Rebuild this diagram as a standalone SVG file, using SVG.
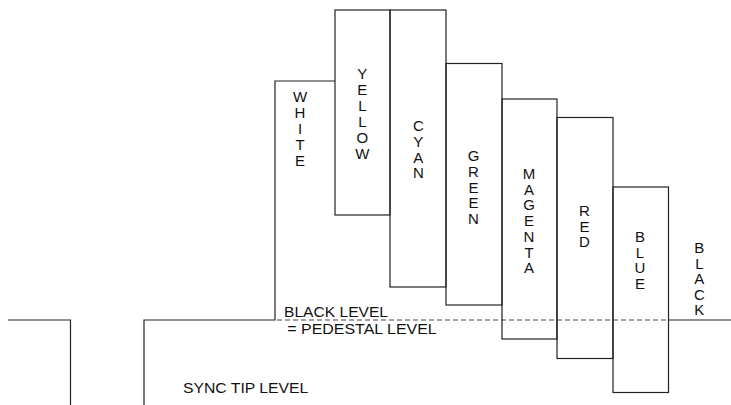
<svg xmlns="http://www.w3.org/2000/svg" width="731" height="405" viewBox="0 0 731 405">
<style>
.ln{fill:none;stroke:#222;stroke-width:1.2}
.bar{fill:none;stroke:#222;stroke-width:1.2}
.dash{fill:none;stroke:#444;stroke-width:1.2;stroke-dasharray:5,3}
text{font-family:"Liberation Sans",Arial,sans-serif;font-size:15px;fill:#111}
.v{text-anchor:middle}
</style>
<rect width="731" height="405" fill="#fff"/>
<g id="connectors">
<polyline class="ln" points="8,320 70.5,320 70.5,405"/>
<polyline class="ln" points="144,405 144,320 275,320 275,81 335,81"/>
<line class="dash" x1="277" y1="320" x2="669" y2="320"/>
<line class="ln" x1="669" y1="320" x2="731" y2="320"/>
</g>
<g id="bar-yellow"><rect class="bar" x="335" y="10" width="55" height="205"/></g>
<g id="bar-cyan"><rect class="bar" x="390" y="10" width="56" height="277"/></g>
<g id="bar-green"><rect class="bar" x="446" y="63.5" width="56" height="241.5"/></g>
<g id="bar-magenta"><rect class="bar" x="502" y="99" width="55" height="240"/></g>
<g id="bar-red"><rect class="bar" x="557" y="117.5" width="56" height="241"/></g>
<g id="bar-blue"><rect class="bar" x="613" y="187" width="55.5" height="205.5"/></g>
<g id="label-white"><text class="v"><tspan x="300" y="102.4">W</tspan><tspan x="300" dy="15.9">H</tspan><tspan x="300" dy="15.9">I</tspan><tspan x="300" dy="15.9">T</tspan><tspan x="300" dy="15.9">E</tspan></text></g>
<g id="label-yellow"><text class="v"><tspan x="362.3" y="79">Y</tspan><tspan x="362.3" dy="15.9">E</tspan><tspan x="362.3" dy="15.9">L</tspan><tspan x="362.3" dy="15.9">L</tspan><tspan x="362.3" dy="15.9">O</tspan><tspan x="362.3" dy="15.9">W</tspan></text></g>
<g id="label-cyan"><text class="v"><tspan x="418.3" y="130.7">C</tspan><tspan x="418.3" dy="15.9">Y</tspan><tspan x="418.3" dy="15.9">A</tspan><tspan x="418.3" dy="15.9">N</tspan></text></g>
<g id="label-green"><text class="v"><tspan x="473.5" y="160.7">G</tspan><tspan x="473.5" dy="15.9">R</tspan><tspan x="473.5" dy="15.9">E</tspan><tspan x="473.5" dy="15.9">E</tspan><tspan x="473.5" dy="15.9">N</tspan></text></g>
<g id="label-magenta"><text class="v"><tspan x="529" y="179">M</tspan><tspan x="529" dy="15.7">A</tspan><tspan x="529" dy="15.7">G</tspan><tspan x="529" dy="15.7">E</tspan><tspan x="529" dy="15.7">N</tspan><tspan x="529" dy="15.7">T</tspan><tspan x="529" dy="15.7">A</tspan></text></g>
<g id="label-red"><text class="v"><tspan x="584.5" y="215.7">R</tspan><tspan x="584.5" dy="15.8">E</tspan><tspan x="584.5" dy="15.8">D</tspan></text></g>
<g id="label-blue"><text class="v"><tspan x="640" y="242.4">B</tspan><tspan x="640" dy="15.5">L</tspan><tspan x="640" dy="15.5">U</tspan><tspan x="640" dy="15.5">E</tspan></text></g>
<g id="label-black"><text class="v"><tspan x="699.3" y="253">B</tspan><tspan x="699.3" dy="15.5">L</tspan><tspan x="699.3" dy="15.5">A</tspan><tspan x="699.3" dy="15.5">C</tspan><tspan x="699.3" dy="15.5">K</tspan></text></g>
<g id="label-black-level"><text x="284" y="317" textLength="104" lengthAdjust="spacingAndGlyphs">BLACK LEVEL</text><text x="287.3" y="334.3" textLength="149.4" lengthAdjust="spacingAndGlyphs">= PEDESTAL LEVEL</text></g>
<g id="label-sync-tip"><text x="183" y="393.3" textLength="125.3" lengthAdjust="spacingAndGlyphs">SYNC TIP LEVEL</text></g>
</svg>
